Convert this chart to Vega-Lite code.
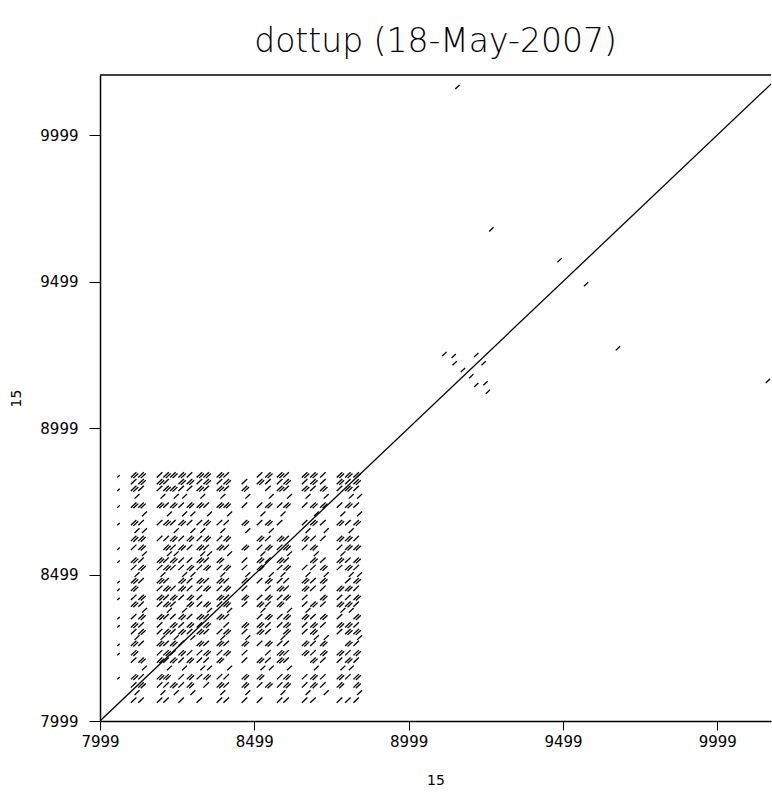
{
"$schema": "https://vega.github.io/schema/vega-lite/v6.json",
"width": 671,
"height": 646,
"autosize": {"type": "none"},
"padding": {"left": 100, "top": 75, "right": 1, "bottom": 73},
"background": "white",
"title": {"text": "dottup (18-May-2007)", "font": "DejaVu Sans", "fontSize": 33, "fontWeight": 200, "color": "black", "anchor": "middle", "frame": "group", "baseline": "alphabetic", "offset": -11},
"config": {"view": {"stroke": null}},
"resolve": {"axis": {"y": "independent"}},
"layer": [
{
"data": {"values": [
{"x":7999,"y":7999,"x2":10204,"y2":10204},
{"x":9150,"y":10156,"x2":9164,"y2":10170},
{"x":10156,"y":9153,"x2":10170,"y2":9167},
{"x":9260,"y":9670,"x2":9274,"y2":9684},
{"x":9670,"y":9264,"x2":9684,"y2":9278},
{"x":9481,"y":9565,"x2":9495,"y2":9579},
{"x":9567,"y":9483,"x2":9581,"y2":9497},
{"x":9108,"y":9245,"x2":9122,"y2":9259},
{"x":9249,"y":9116,"x2":9263,"y2":9130},
{"x":9138,"y":9238,"x2":9152,"y2":9252},
{"x":9241,"y":9145,"x2":9255,"y2":9159},
{"x":9141,"y":9213,"x2":9155,"y2":9227},
{"x":9211,"y":9139,"x2":9225,"y2":9153},
{"x":9168,"y":9190,"x2":9182,"y2":9204},
{"x":9195,"y":9169,"x2":9209,"y2":9183},
{"x":9211,"y":9241,"x2":9225,"y2":9255},
{"x":9235,"y":9213,"x2":9249,"y2":9227},

{"x":8055,"y":8830,"x2":8063,"y2":8838},
{"x":8099,"y":8830,"x2":8117,"y2":8848},
{"x":8123,"y":8830,"x2":8141,"y2":8848},
{"x":8183,"y":8830,"x2":8201,"y2":8848},
{"x":8204,"y":8830,"x2":8222,"y2":8848},
{"x":8226,"y":8830,"x2":8244,"y2":8848},
{"x":8253,"y":8830,"x2":8271,"y2":8848},
{"x":8280,"y":8830,"x2":8298,"y2":8848},
{"x":8312,"y":8830,"x2":8330,"y2":8848},
{"x":8334,"y":8830,"x2":8352,"y2":8848},
{"x":8377,"y":8830,"x2":8395,"y2":8848},
{"x":8399,"y":8830,"x2":8417,"y2":8848},
{"x":8507,"y":8830,"x2":8525,"y2":8848},
{"x":8534,"y":8830,"x2":8552,"y2":8848},
{"x":8572,"y":8830,"x2":8590,"y2":8848},
{"x":8593,"y":8830,"x2":8611,"y2":8848},
{"x":8653,"y":8830,"x2":8671,"y2":8848},
{"x":8680,"y":8830,"x2":8698,"y2":8848},
{"x":8712,"y":8830,"x2":8730,"y2":8848},
{"x":8766,"y":8830,"x2":8784,"y2":8848},
{"x":8793,"y":8830,"x2":8811,"y2":8848},
{"x":8820,"y":8830,"x2":8838,"y2":8848},
{"x":8107,"y":8828,"x2":8123,"y2":8844},
{"x":8131,"y":8828,"x2":8147,"y2":8844},
{"x":8212,"y":8828,"x2":8228,"y2":8844},
{"x":8234,"y":8828,"x2":8250,"y2":8844},
{"x":8261,"y":8828,"x2":8277,"y2":8844},
{"x":8320,"y":8828,"x2":8336,"y2":8844},
{"x":8342,"y":8828,"x2":8358,"y2":8844},
{"x":8385,"y":8828,"x2":8401,"y2":8844},
{"x":8542,"y":8828,"x2":8558,"y2":8844},
{"x":8580,"y":8828,"x2":8596,"y2":8844},
{"x":8661,"y":8828,"x2":8677,"y2":8844},
{"x":8688,"y":8828,"x2":8704,"y2":8844},
{"x":8774,"y":8828,"x2":8790,"y2":8844},
{"x":8801,"y":8828,"x2":8817,"y2":8844},
{"x":8828,"y":8828,"x2":8844,"y2":8844},

{"x":8099,"y":8807,"x2":8117,"y2":8825},
{"x":8123,"y":8807,"x2":8141,"y2":8825},
{"x":8183,"y":8807,"x2":8201,"y2":8825},
{"x":8204,"y":8807,"x2":8222,"y2":8825},
{"x":8253,"y":8807,"x2":8271,"y2":8825},
{"x":8280,"y":8807,"x2":8298,"y2":8825},
{"x":8312,"y":8807,"x2":8330,"y2":8825},
{"x":8334,"y":8807,"x2":8352,"y2":8825},
{"x":8377,"y":8807,"x2":8395,"y2":8825},
{"x":8399,"y":8807,"x2":8417,"y2":8825},
{"x":8458,"y":8807,"x2":8476,"y2":8825},
{"x":8507,"y":8807,"x2":8525,"y2":8825},
{"x":8534,"y":8807,"x2":8552,"y2":8825},
{"x":8572,"y":8807,"x2":8590,"y2":8825},
{"x":8593,"y":8807,"x2":8611,"y2":8825},
{"x":8653,"y":8807,"x2":8671,"y2":8825},
{"x":8680,"y":8807,"x2":8698,"y2":8825},
{"x":8712,"y":8807,"x2":8730,"y2":8825},
{"x":8766,"y":8807,"x2":8784,"y2":8825},
{"x":8793,"y":8807,"x2":8811,"y2":8825},
{"x":8820,"y":8807,"x2":8838,"y2":8825},
{"x":8131,"y":8805,"x2":8147,"y2":8821},
{"x":8191,"y":8805,"x2":8207,"y2":8821},
{"x":8261,"y":8805,"x2":8277,"y2":8821},
{"x":8288,"y":8805,"x2":8304,"y2":8821},
{"x":8342,"y":8805,"x2":8358,"y2":8821},
{"x":8407,"y":8805,"x2":8423,"y2":8821},
{"x":8515,"y":8805,"x2":8531,"y2":8821},
{"x":8601,"y":8805,"x2":8617,"y2":8821},
{"x":8688,"y":8805,"x2":8704,"y2":8821},
{"x":8774,"y":8805,"x2":8790,"y2":8821},
{"x":8828,"y":8805,"x2":8844,"y2":8821},

{"x":8055,"y":8784,"x2":8063,"y2":8792},
{"x":8099,"y":8784,"x2":8117,"y2":8802},
{"x":8123,"y":8784,"x2":8141,"y2":8802},
{"x":8183,"y":8784,"x2":8201,"y2":8802},
{"x":8204,"y":8784,"x2":8222,"y2":8802},
{"x":8226,"y":8784,"x2":8244,"y2":8802},
{"x":8253,"y":8784,"x2":8271,"y2":8802},
{"x":8280,"y":8784,"x2":8298,"y2":8802},
{"x":8312,"y":8784,"x2":8330,"y2":8802},
{"x":8334,"y":8784,"x2":8352,"y2":8802},
{"x":8377,"y":8784,"x2":8395,"y2":8802},
{"x":8399,"y":8784,"x2":8417,"y2":8802},
{"x":8458,"y":8784,"x2":8476,"y2":8802},
{"x":8534,"y":8784,"x2":8552,"y2":8802},
{"x":8572,"y":8784,"x2":8590,"y2":8802},
{"x":8593,"y":8784,"x2":8611,"y2":8802},
{"x":8653,"y":8784,"x2":8671,"y2":8802},
{"x":8680,"y":8784,"x2":8698,"y2":8802},
{"x":8712,"y":8784,"x2":8730,"y2":8802},
{"x":8766,"y":8784,"x2":8784,"y2":8802},
{"x":8793,"y":8784,"x2":8811,"y2":8802},
{"x":8820,"y":8784,"x2":8838,"y2":8802},
{"x":8107,"y":8782,"x2":8123,"y2":8798},
{"x":8212,"y":8782,"x2":8228,"y2":8798},
{"x":8234,"y":8782,"x2":8250,"y2":8798},
{"x":8320,"y":8782,"x2":8336,"y2":8798},
{"x":8385,"y":8782,"x2":8401,"y2":8798},
{"x":8466,"y":8782,"x2":8482,"y2":8798},
{"x":8580,"y":8782,"x2":8596,"y2":8798},
{"x":8661,"y":8782,"x2":8677,"y2":8798},
{"x":8720,"y":8782,"x2":8736,"y2":8798},
{"x":8801,"y":8782,"x2":8817,"y2":8798},

{"x":8111,"y":8758,"x2":8127,"y2":8774},
{"x":8195,"y":8758,"x2":8211,"y2":8774},
{"x":8238,"y":8758,"x2":8254,"y2":8774},
{"x":8265,"y":8758,"x2":8281,"y2":8774},
{"x":8324,"y":8758,"x2":8340,"y2":8774},
{"x":8389,"y":8758,"x2":8405,"y2":8774},
{"x":8470,"y":8758,"x2":8486,"y2":8774},
{"x":8546,"y":8758,"x2":8562,"y2":8774},
{"x":8605,"y":8758,"x2":8621,"y2":8774},
{"x":8665,"y":8758,"x2":8681,"y2":8774},
{"x":8724,"y":8758,"x2":8740,"y2":8774},
{"x":8805,"y":8758,"x2":8821,"y2":8774},
{"x":8832,"y":8758,"x2":8848,"y2":8774},

{"x":8055,"y":8727,"x2":8063,"y2":8735},
{"x":8099,"y":8727,"x2":8117,"y2":8745},
{"x":8123,"y":8727,"x2":8141,"y2":8745},
{"x":8183,"y":8727,"x2":8201,"y2":8745},
{"x":8204,"y":8727,"x2":8222,"y2":8745},
{"x":8226,"y":8727,"x2":8244,"y2":8745},
{"x":8253,"y":8727,"x2":8271,"y2":8745},
{"x":8280,"y":8727,"x2":8298,"y2":8745},
{"x":8312,"y":8727,"x2":8330,"y2":8745},
{"x":8334,"y":8727,"x2":8352,"y2":8745},
{"x":8377,"y":8727,"x2":8395,"y2":8745},
{"x":8399,"y":8727,"x2":8417,"y2":8745},
{"x":8458,"y":8727,"x2":8476,"y2":8745},
{"x":8507,"y":8727,"x2":8525,"y2":8745},
{"x":8534,"y":8727,"x2":8552,"y2":8745},
{"x":8572,"y":8727,"x2":8590,"y2":8745},
{"x":8593,"y":8727,"x2":8611,"y2":8745},
{"x":8653,"y":8727,"x2":8671,"y2":8745},
{"x":8680,"y":8727,"x2":8698,"y2":8745},
{"x":8712,"y":8727,"x2":8730,"y2":8745},
{"x":8766,"y":8727,"x2":8784,"y2":8745},
{"x":8793,"y":8727,"x2":8811,"y2":8745},
{"x":8820,"y":8727,"x2":8838,"y2":8745},
{"x":8107,"y":8725,"x2":8123,"y2":8741},
{"x":8131,"y":8725,"x2":8147,"y2":8741},
{"x":8191,"y":8725,"x2":8207,"y2":8741},
{"x":8234,"y":8725,"x2":8250,"y2":8741},
{"x":8288,"y":8725,"x2":8304,"y2":8741},
{"x":8320,"y":8725,"x2":8336,"y2":8741},
{"x":8385,"y":8725,"x2":8401,"y2":8741},
{"x":8407,"y":8725,"x2":8423,"y2":8741},
{"x":8542,"y":8725,"x2":8558,"y2":8741},
{"x":8601,"y":8725,"x2":8617,"y2":8741},
{"x":8688,"y":8725,"x2":8704,"y2":8741},
{"x":8720,"y":8725,"x2":8736,"y2":8741},
{"x":8801,"y":8725,"x2":8817,"y2":8741},

{"x":8135,"y":8698,"x2":8151,"y2":8714},
{"x":8216,"y":8698,"x2":8232,"y2":8714},
{"x":8265,"y":8698,"x2":8281,"y2":8714},
{"x":8292,"y":8698,"x2":8308,"y2":8714},
{"x":8346,"y":8698,"x2":8362,"y2":8714},
{"x":8411,"y":8698,"x2":8427,"y2":8714},
{"x":8519,"y":8698,"x2":8535,"y2":8714},
{"x":8584,"y":8698,"x2":8600,"y2":8714},
{"x":8692,"y":8698,"x2":8708,"y2":8714},
{"x":8778,"y":8698,"x2":8794,"y2":8714},
{"x":8832,"y":8698,"x2":8848,"y2":8714},

{"x":8055,"y":8667,"x2":8063,"y2":8675},
{"x":8099,"y":8667,"x2":8117,"y2":8685},
{"x":8123,"y":8667,"x2":8141,"y2":8685},
{"x":8183,"y":8667,"x2":8201,"y2":8685},
{"x":8204,"y":8667,"x2":8222,"y2":8685},
{"x":8226,"y":8667,"x2":8244,"y2":8685},
{"x":8253,"y":8667,"x2":8271,"y2":8685},
{"x":8280,"y":8667,"x2":8298,"y2":8685},
{"x":8312,"y":8667,"x2":8330,"y2":8685},
{"x":8334,"y":8667,"x2":8352,"y2":8685},
{"x":8377,"y":8667,"x2":8395,"y2":8685},
{"x":8399,"y":8667,"x2":8417,"y2":8685},
{"x":8458,"y":8667,"x2":8476,"y2":8685},
{"x":8507,"y":8667,"x2":8525,"y2":8685},
{"x":8534,"y":8667,"x2":8552,"y2":8685},
{"x":8572,"y":8667,"x2":8590,"y2":8685},
{"x":8653,"y":8667,"x2":8671,"y2":8685},
{"x":8680,"y":8667,"x2":8698,"y2":8685},
{"x":8712,"y":8667,"x2":8730,"y2":8685},
{"x":8766,"y":8667,"x2":8784,"y2":8685},
{"x":8793,"y":8667,"x2":8811,"y2":8685},
{"x":8820,"y":8667,"x2":8838,"y2":8685},
{"x":8107,"y":8665,"x2":8123,"y2":8681},
{"x":8212,"y":8665,"x2":8228,"y2":8681},
{"x":8261,"y":8665,"x2":8277,"y2":8681},
{"x":8342,"y":8665,"x2":8358,"y2":8681},
{"x":8466,"y":8665,"x2":8482,"y2":8681},
{"x":8542,"y":8665,"x2":8558,"y2":8681},
{"x":8688,"y":8665,"x2":8704,"y2":8681},
{"x":8774,"y":8665,"x2":8790,"y2":8681},
{"x":8828,"y":8665,"x2":8844,"y2":8681},

{"x":8111,"y":8641,"x2":8127,"y2":8657},
{"x":8135,"y":8641,"x2":8151,"y2":8657},
{"x":8238,"y":8641,"x2":8254,"y2":8657},
{"x":8292,"y":8641,"x2":8308,"y2":8657},
{"x":8324,"y":8641,"x2":8340,"y2":8657},
{"x":8389,"y":8641,"x2":8405,"y2":8657},
{"x":8470,"y":8641,"x2":8486,"y2":8657},
{"x":8546,"y":8641,"x2":8562,"y2":8657},
{"x":8665,"y":8641,"x2":8681,"y2":8657},
{"x":8724,"y":8641,"x2":8740,"y2":8657},
{"x":8805,"y":8641,"x2":8821,"y2":8657},

{"x":8099,"y":8613,"x2":8117,"y2":8631},
{"x":8123,"y":8613,"x2":8141,"y2":8631},
{"x":8183,"y":8613,"x2":8201,"y2":8631},
{"x":8204,"y":8613,"x2":8222,"y2":8631},
{"x":8226,"y":8613,"x2":8244,"y2":8631},
{"x":8253,"y":8613,"x2":8271,"y2":8631},
{"x":8280,"y":8613,"x2":8298,"y2":8631},
{"x":8312,"y":8613,"x2":8330,"y2":8631},
{"x":8334,"y":8613,"x2":8352,"y2":8631},
{"x":8377,"y":8613,"x2":8395,"y2":8631},
{"x":8399,"y":8613,"x2":8417,"y2":8631},
{"x":8507,"y":8613,"x2":8525,"y2":8631},
{"x":8534,"y":8613,"x2":8552,"y2":8631},
{"x":8572,"y":8613,"x2":8590,"y2":8631},
{"x":8593,"y":8613,"x2":8611,"y2":8631},
{"x":8653,"y":8613,"x2":8671,"y2":8631},
{"x":8680,"y":8613,"x2":8698,"y2":8631},
{"x":8712,"y":8613,"x2":8730,"y2":8631},
{"x":8766,"y":8613,"x2":8784,"y2":8631},
{"x":8793,"y":8613,"x2":8811,"y2":8631},
{"x":8820,"y":8613,"x2":8838,"y2":8631},
{"x":8107,"y":8611,"x2":8123,"y2":8627},
{"x":8131,"y":8611,"x2":8147,"y2":8627},
{"x":8234,"y":8611,"x2":8250,"y2":8627},
{"x":8288,"y":8611,"x2":8304,"y2":8627},
{"x":8342,"y":8611,"x2":8358,"y2":8627},
{"x":8407,"y":8611,"x2":8423,"y2":8627},
{"x":8515,"y":8611,"x2":8531,"y2":8627},
{"x":8580,"y":8611,"x2":8596,"y2":8627},
{"x":8661,"y":8611,"x2":8677,"y2":8627},
{"x":8774,"y":8611,"x2":8790,"y2":8627},
{"x":8801,"y":8611,"x2":8817,"y2":8627},

{"x":8055,"y":8583,"x2":8063,"y2":8591},
{"x":8099,"y":8583,"x2":8117,"y2":8601},
{"x":8123,"y":8583,"x2":8141,"y2":8601},
{"x":8204,"y":8583,"x2":8222,"y2":8601},
{"x":8226,"y":8583,"x2":8244,"y2":8601},
{"x":8253,"y":8583,"x2":8271,"y2":8601},
{"x":8280,"y":8583,"x2":8298,"y2":8601},
{"x":8312,"y":8583,"x2":8330,"y2":8601},
{"x":8334,"y":8583,"x2":8352,"y2":8601},
{"x":8377,"y":8583,"x2":8395,"y2":8601},
{"x":8399,"y":8583,"x2":8417,"y2":8601},
{"x":8458,"y":8583,"x2":8476,"y2":8601},
{"x":8507,"y":8583,"x2":8525,"y2":8601},
{"x":8534,"y":8583,"x2":8552,"y2":8601},
{"x":8572,"y":8583,"x2":8590,"y2":8601},
{"x":8593,"y":8583,"x2":8611,"y2":8601},
{"x":8653,"y":8583,"x2":8671,"y2":8601},
{"x":8680,"y":8583,"x2":8698,"y2":8601},
{"x":8766,"y":8583,"x2":8784,"y2":8601},
{"x":8793,"y":8583,"x2":8811,"y2":8601},
{"x":8820,"y":8583,"x2":8838,"y2":8601},
{"x":8131,"y":8581,"x2":8147,"y2":8597},
{"x":8212,"y":8581,"x2":8228,"y2":8597},
{"x":8261,"y":8581,"x2":8277,"y2":8597},
{"x":8320,"y":8581,"x2":8336,"y2":8597},
{"x":8385,"y":8581,"x2":8401,"y2":8597},
{"x":8466,"y":8581,"x2":8482,"y2":8597},
{"x":8542,"y":8581,"x2":8558,"y2":8597},
{"x":8601,"y":8581,"x2":8617,"y2":8597},
{"x":8688,"y":8581,"x2":8704,"y2":8597},
{"x":8801,"y":8581,"x2":8817,"y2":8597},
{"x":8828,"y":8581,"x2":8844,"y2":8597},

{"x":8135,"y":8562,"x2":8151,"y2":8578},
{"x":8216,"y":8562,"x2":8232,"y2":8578},
{"x":8238,"y":8562,"x2":8254,"y2":8578},
{"x":8324,"y":8562,"x2":8340,"y2":8578},
{"x":8346,"y":8562,"x2":8362,"y2":8578},
{"x":8411,"y":8562,"x2":8427,"y2":8578},
{"x":8519,"y":8562,"x2":8535,"y2":8578},
{"x":8605,"y":8562,"x2":8621,"y2":8578},
{"x":8692,"y":8562,"x2":8708,"y2":8578},
{"x":8778,"y":8562,"x2":8794,"y2":8578},

{"x":8055,"y":8539,"x2":8063,"y2":8547},
{"x":8099,"y":8539,"x2":8117,"y2":8557},
{"x":8123,"y":8539,"x2":8141,"y2":8557},
{"x":8183,"y":8539,"x2":8201,"y2":8557},
{"x":8204,"y":8539,"x2":8222,"y2":8557},
{"x":8226,"y":8539,"x2":8244,"y2":8557},
{"x":8253,"y":8539,"x2":8271,"y2":8557},
{"x":8280,"y":8539,"x2":8298,"y2":8557},
{"x":8312,"y":8539,"x2":8330,"y2":8557},
{"x":8334,"y":8539,"x2":8352,"y2":8557},
{"x":8377,"y":8539,"x2":8395,"y2":8557},
{"x":8458,"y":8539,"x2":8476,"y2":8557},
{"x":8507,"y":8539,"x2":8525,"y2":8557},
{"x":8534,"y":8539,"x2":8552,"y2":8557},
{"x":8572,"y":8539,"x2":8590,"y2":8557},
{"x":8593,"y":8539,"x2":8611,"y2":8557},
{"x":8680,"y":8539,"x2":8698,"y2":8557},
{"x":8712,"y":8539,"x2":8730,"y2":8557},
{"x":8766,"y":8539,"x2":8784,"y2":8557},
{"x":8793,"y":8539,"x2":8811,"y2":8557},
{"x":8820,"y":8539,"x2":8838,"y2":8557},
{"x":8107,"y":8537,"x2":8123,"y2":8553},
{"x":8191,"y":8537,"x2":8207,"y2":8553},
{"x":8234,"y":8537,"x2":8250,"y2":8553},
{"x":8320,"y":8537,"x2":8336,"y2":8553},
{"x":8385,"y":8537,"x2":8401,"y2":8553},
{"x":8515,"y":8537,"x2":8531,"y2":8553},
{"x":8580,"y":8537,"x2":8596,"y2":8553},
{"x":8688,"y":8537,"x2":8704,"y2":8553},
{"x":8774,"y":8537,"x2":8790,"y2":8553},
{"x":8828,"y":8537,"x2":8844,"y2":8553},

{"x":8099,"y":8514,"x2":8117,"y2":8532},
{"x":8123,"y":8514,"x2":8141,"y2":8532},
{"x":8183,"y":8514,"x2":8201,"y2":8532},
{"x":8204,"y":8514,"x2":8222,"y2":8532},
{"x":8226,"y":8514,"x2":8244,"y2":8532},
{"x":8253,"y":8514,"x2":8271,"y2":8532},
{"x":8280,"y":8514,"x2":8298,"y2":8532},
{"x":8312,"y":8514,"x2":8330,"y2":8532},
{"x":8334,"y":8514,"x2":8352,"y2":8532},
{"x":8377,"y":8514,"x2":8395,"y2":8532},
{"x":8399,"y":8514,"x2":8417,"y2":8532},
{"x":8458,"y":8514,"x2":8476,"y2":8532},
{"x":8507,"y":8514,"x2":8525,"y2":8532},
{"x":8572,"y":8514,"x2":8590,"y2":8532},
{"x":8593,"y":8514,"x2":8611,"y2":8532},
{"x":8653,"y":8514,"x2":8671,"y2":8532},
{"x":8680,"y":8514,"x2":8698,"y2":8532},
{"x":8712,"y":8514,"x2":8730,"y2":8532},
{"x":8766,"y":8514,"x2":8784,"y2":8532},
{"x":8793,"y":8514,"x2":8811,"y2":8532},
{"x":8820,"y":8514,"x2":8838,"y2":8532},
{"x":8131,"y":8512,"x2":8147,"y2":8528},
{"x":8212,"y":8512,"x2":8228,"y2":8528},
{"x":8288,"y":8512,"x2":8304,"y2":8528},
{"x":8342,"y":8512,"x2":8358,"y2":8528},
{"x":8407,"y":8512,"x2":8423,"y2":8528},
{"x":8515,"y":8512,"x2":8531,"y2":8528},
{"x":8601,"y":8512,"x2":8617,"y2":8528},
{"x":8720,"y":8512,"x2":8736,"y2":8528},
{"x":8801,"y":8512,"x2":8817,"y2":8528},

{"x":8111,"y":8491,"x2":8127,"y2":8507},
{"x":8195,"y":8491,"x2":8211,"y2":8507},
{"x":8265,"y":8491,"x2":8281,"y2":8507},
{"x":8292,"y":8491,"x2":8308,"y2":8507},
{"x":8389,"y":8491,"x2":8405,"y2":8507},
{"x":8470,"y":8491,"x2":8486,"y2":8507},
{"x":8546,"y":8491,"x2":8562,"y2":8507},
{"x":8584,"y":8491,"x2":8600,"y2":8507},
{"x":8665,"y":8491,"x2":8681,"y2":8507},
{"x":8724,"y":8491,"x2":8740,"y2":8507},
{"x":8805,"y":8491,"x2":8821,"y2":8507},
{"x":8832,"y":8491,"x2":8848,"y2":8507},

{"x":8055,"y":8469,"x2":8063,"y2":8477},
{"x":8099,"y":8469,"x2":8117,"y2":8487},
{"x":8123,"y":8469,"x2":8141,"y2":8487},
{"x":8183,"y":8469,"x2":8201,"y2":8487},
{"x":8204,"y":8469,"x2":8222,"y2":8487},
{"x":8253,"y":8469,"x2":8271,"y2":8487},
{"x":8280,"y":8469,"x2":8298,"y2":8487},
{"x":8312,"y":8469,"x2":8330,"y2":8487},
{"x":8334,"y":8469,"x2":8352,"y2":8487},
{"x":8377,"y":8469,"x2":8395,"y2":8487},
{"x":8399,"y":8469,"x2":8417,"y2":8487},
{"x":8458,"y":8469,"x2":8476,"y2":8487},
{"x":8507,"y":8469,"x2":8525,"y2":8487},
{"x":8534,"y":8469,"x2":8552,"y2":8487},
{"x":8572,"y":8469,"x2":8590,"y2":8487},
{"x":8593,"y":8469,"x2":8611,"y2":8487},
{"x":8653,"y":8469,"x2":8671,"y2":8487},
{"x":8680,"y":8469,"x2":8698,"y2":8487},
{"x":8712,"y":8469,"x2":8730,"y2":8487},
{"x":8793,"y":8469,"x2":8811,"y2":8487},
{"x":8820,"y":8469,"x2":8838,"y2":8487},
{"x":8107,"y":8467,"x2":8123,"y2":8483},
{"x":8191,"y":8467,"x2":8207,"y2":8483},
{"x":8261,"y":8467,"x2":8277,"y2":8483},
{"x":8320,"y":8467,"x2":8336,"y2":8483},
{"x":8385,"y":8467,"x2":8401,"y2":8483},
{"x":8466,"y":8467,"x2":8482,"y2":8483},
{"x":8542,"y":8467,"x2":8558,"y2":8483},
{"x":8661,"y":8467,"x2":8677,"y2":8483},
{"x":8720,"y":8467,"x2":8736,"y2":8483},
{"x":8828,"y":8467,"x2":8844,"y2":8483},

{"x":8055,"y":8443,"x2":8063,"y2":8451},
{"x":8099,"y":8443,"x2":8117,"y2":8461},
{"x":8183,"y":8443,"x2":8201,"y2":8461},
{"x":8204,"y":8443,"x2":8222,"y2":8461},
{"x":8226,"y":8443,"x2":8244,"y2":8461},
{"x":8253,"y":8443,"x2":8271,"y2":8461},
{"x":8280,"y":8443,"x2":8298,"y2":8461},
{"x":8312,"y":8443,"x2":8330,"y2":8461},
{"x":8334,"y":8443,"x2":8352,"y2":8461},
{"x":8377,"y":8443,"x2":8395,"y2":8461},
{"x":8399,"y":8443,"x2":8417,"y2":8461},
{"x":8458,"y":8443,"x2":8476,"y2":8461},
{"x":8534,"y":8443,"x2":8552,"y2":8461},
{"x":8572,"y":8443,"x2":8590,"y2":8461},
{"x":8593,"y":8443,"x2":8611,"y2":8461},
{"x":8653,"y":8443,"x2":8671,"y2":8461},
{"x":8680,"y":8443,"x2":8698,"y2":8461},
{"x":8712,"y":8443,"x2":8730,"y2":8461},
{"x":8766,"y":8443,"x2":8784,"y2":8461},
{"x":8793,"y":8443,"x2":8811,"y2":8461},
{"x":8820,"y":8443,"x2":8838,"y2":8461},
{"x":8107,"y":8441,"x2":8123,"y2":8457},
{"x":8212,"y":8441,"x2":8228,"y2":8457},
{"x":8261,"y":8441,"x2":8277,"y2":8457},
{"x":8342,"y":8441,"x2":8358,"y2":8457},
{"x":8407,"y":8441,"x2":8423,"y2":8457},
{"x":8580,"y":8441,"x2":8596,"y2":8457},
{"x":8661,"y":8441,"x2":8677,"y2":8457},
{"x":8774,"y":8441,"x2":8790,"y2":8457},
{"x":8801,"y":8441,"x2":8817,"y2":8457},

{"x":8055,"y":8412,"x2":8063,"y2":8420},
{"x":8099,"y":8412,"x2":8117,"y2":8430},
{"x":8123,"y":8412,"x2":8141,"y2":8430},
{"x":8183,"y":8412,"x2":8201,"y2":8430},
{"x":8204,"y":8412,"x2":8222,"y2":8430},
{"x":8226,"y":8412,"x2":8244,"y2":8430},
{"x":8253,"y":8412,"x2":8271,"y2":8430},
{"x":8280,"y":8412,"x2":8298,"y2":8430},
{"x":8312,"y":8412,"x2":8330,"y2":8430},
{"x":8377,"y":8412,"x2":8395,"y2":8430},
{"x":8399,"y":8412,"x2":8417,"y2":8430},
{"x":8458,"y":8412,"x2":8476,"y2":8430},
{"x":8507,"y":8412,"x2":8525,"y2":8430},
{"x":8534,"y":8412,"x2":8552,"y2":8430},
{"x":8572,"y":8412,"x2":8590,"y2":8430},
{"x":8593,"y":8412,"x2":8611,"y2":8430},
{"x":8653,"y":8412,"x2":8671,"y2":8430},
{"x":8712,"y":8412,"x2":8730,"y2":8430},
{"x":8766,"y":8412,"x2":8784,"y2":8430},
{"x":8793,"y":8412,"x2":8811,"y2":8430},
{"x":8820,"y":8412,"x2":8838,"y2":8430},
{"x":8131,"y":8410,"x2":8147,"y2":8426},
{"x":8191,"y":8410,"x2":8207,"y2":8426},
{"x":8234,"y":8410,"x2":8250,"y2":8426},
{"x":8288,"y":8410,"x2":8304,"y2":8426},
{"x":8385,"y":8410,"x2":8401,"y2":8426},
{"x":8466,"y":8410,"x2":8482,"y2":8426},
{"x":8542,"y":8410,"x2":8558,"y2":8426},
{"x":8601,"y":8410,"x2":8617,"y2":8426},
{"x":8720,"y":8410,"x2":8736,"y2":8426},
{"x":8828,"y":8410,"x2":8844,"y2":8426},

{"x":8099,"y":8389,"x2":8117,"y2":8407},
{"x":8123,"y":8389,"x2":8141,"y2":8407},
{"x":8183,"y":8389,"x2":8201,"y2":8407},
{"x":8204,"y":8389,"x2":8222,"y2":8407},
{"x":8226,"y":8389,"x2":8244,"y2":8407},
{"x":8280,"y":8389,"x2":8298,"y2":8407},
{"x":8312,"y":8389,"x2":8330,"y2":8407},
{"x":8334,"y":8389,"x2":8352,"y2":8407},
{"x":8377,"y":8389,"x2":8395,"y2":8407},
{"x":8399,"y":8389,"x2":8417,"y2":8407},
{"x":8458,"y":8389,"x2":8476,"y2":8407},
{"x":8507,"y":8389,"x2":8525,"y2":8407},
{"x":8534,"y":8389,"x2":8552,"y2":8407},
{"x":8572,"y":8389,"x2":8590,"y2":8407},
{"x":8653,"y":8389,"x2":8671,"y2":8407},
{"x":8680,"y":8389,"x2":8698,"y2":8407},
{"x":8712,"y":8389,"x2":8730,"y2":8407},
{"x":8766,"y":8389,"x2":8784,"y2":8407},
{"x":8793,"y":8389,"x2":8811,"y2":8407},
{"x":8820,"y":8389,"x2":8838,"y2":8407},
{"x":8107,"y":8387,"x2":8123,"y2":8403},
{"x":8212,"y":8387,"x2":8228,"y2":8403},
{"x":8288,"y":8387,"x2":8304,"y2":8403},
{"x":8342,"y":8387,"x2":8358,"y2":8403},
{"x":8407,"y":8387,"x2":8423,"y2":8403},
{"x":8515,"y":8387,"x2":8531,"y2":8403},
{"x":8580,"y":8387,"x2":8596,"y2":8403},
{"x":8688,"y":8387,"x2":8704,"y2":8403},
{"x":8774,"y":8387,"x2":8790,"y2":8403},
{"x":8801,"y":8387,"x2":8817,"y2":8403},

{"x":8135,"y":8369,"x2":8151,"y2":8385},
{"x":8216,"y":8369,"x2":8232,"y2":8385},
{"x":8265,"y":8369,"x2":8281,"y2":8385},
{"x":8346,"y":8369,"x2":8362,"y2":8385},
{"x":8411,"y":8369,"x2":8427,"y2":8385},
{"x":8519,"y":8369,"x2":8535,"y2":8385},
{"x":8605,"y":8369,"x2":8621,"y2":8385},
{"x":8665,"y":8369,"x2":8681,"y2":8385},
{"x":8778,"y":8369,"x2":8794,"y2":8385},
{"x":8805,"y":8369,"x2":8821,"y2":8385},

{"x":8055,"y":8346,"x2":8063,"y2":8354},
{"x":8099,"y":8346,"x2":8117,"y2":8364},
{"x":8123,"y":8346,"x2":8141,"y2":8364},
{"x":8183,"y":8346,"x2":8201,"y2":8364},
{"x":8204,"y":8346,"x2":8222,"y2":8364},
{"x":8226,"y":8346,"x2":8244,"y2":8364},
{"x":8253,"y":8346,"x2":8271,"y2":8364},
{"x":8280,"y":8346,"x2":8298,"y2":8364},
{"x":8312,"y":8346,"x2":8330,"y2":8364},
{"x":8334,"y":8346,"x2":8352,"y2":8364},
{"x":8377,"y":8346,"x2":8395,"y2":8364},
{"x":8399,"y":8346,"x2":8417,"y2":8364},
{"x":8507,"y":8346,"x2":8525,"y2":8364},
{"x":8534,"y":8346,"x2":8552,"y2":8364},
{"x":8572,"y":8346,"x2":8590,"y2":8364},
{"x":8593,"y":8346,"x2":8611,"y2":8364},
{"x":8653,"y":8346,"x2":8671,"y2":8364},
{"x":8680,"y":8346,"x2":8698,"y2":8364},
{"x":8712,"y":8346,"x2":8730,"y2":8364},
{"x":8766,"y":8346,"x2":8784,"y2":8364},
{"x":8820,"y":8346,"x2":8838,"y2":8364},
{"x":8131,"y":8344,"x2":8147,"y2":8360},
{"x":8191,"y":8344,"x2":8207,"y2":8360},
{"x":8261,"y":8344,"x2":8277,"y2":8360},
{"x":8320,"y":8344,"x2":8336,"y2":8360},
{"x":8385,"y":8344,"x2":8401,"y2":8360},
{"x":8542,"y":8344,"x2":8558,"y2":8360},
{"x":8601,"y":8344,"x2":8617,"y2":8360},
{"x":8661,"y":8344,"x2":8677,"y2":8360},
{"x":8720,"y":8344,"x2":8736,"y2":8360},
{"x":8828,"y":8344,"x2":8844,"y2":8360},

{"x":8055,"y":8318,"x2":8063,"y2":8326},
{"x":8099,"y":8318,"x2":8117,"y2":8336},
{"x":8123,"y":8318,"x2":8141,"y2":8336},
{"x":8183,"y":8318,"x2":8201,"y2":8336},
{"x":8226,"y":8318,"x2":8244,"y2":8336},
{"x":8253,"y":8318,"x2":8271,"y2":8336},
{"x":8280,"y":8318,"x2":8298,"y2":8336},
{"x":8312,"y":8318,"x2":8330,"y2":8336},
{"x":8334,"y":8318,"x2":8352,"y2":8336},
{"x":8399,"y":8318,"x2":8417,"y2":8336},
{"x":8458,"y":8318,"x2":8476,"y2":8336},
{"x":8507,"y":8318,"x2":8525,"y2":8336},
{"x":8534,"y":8318,"x2":8552,"y2":8336},
{"x":8572,"y":8318,"x2":8590,"y2":8336},
{"x":8593,"y":8318,"x2":8611,"y2":8336},
{"x":8653,"y":8318,"x2":8671,"y2":8336},
{"x":8680,"y":8318,"x2":8698,"y2":8336},
{"x":8712,"y":8318,"x2":8730,"y2":8336},
{"x":8766,"y":8318,"x2":8784,"y2":8336},
{"x":8793,"y":8318,"x2":8811,"y2":8336},
{"x":8820,"y":8318,"x2":8838,"y2":8336},
{"x":8107,"y":8316,"x2":8123,"y2":8332},
{"x":8234,"y":8316,"x2":8250,"y2":8332},
{"x":8288,"y":8316,"x2":8304,"y2":8332},
{"x":8342,"y":8316,"x2":8358,"y2":8332},
{"x":8466,"y":8316,"x2":8482,"y2":8332},
{"x":8515,"y":8316,"x2":8531,"y2":8332},
{"x":8601,"y":8316,"x2":8617,"y2":8332},
{"x":8688,"y":8316,"x2":8704,"y2":8332},
{"x":8774,"y":8316,"x2":8790,"y2":8332},
{"x":8801,"y":8316,"x2":8817,"y2":8332},

{"x":8099,"y":8295,"x2":8117,"y2":8313},
{"x":8123,"y":8295,"x2":8141,"y2":8313},
{"x":8183,"y":8295,"x2":8201,"y2":8313},
{"x":8204,"y":8295,"x2":8222,"y2":8313},
{"x":8226,"y":8295,"x2":8244,"y2":8313},
{"x":8253,"y":8295,"x2":8271,"y2":8313},
{"x":8280,"y":8295,"x2":8298,"y2":8313},
{"x":8312,"y":8295,"x2":8330,"y2":8313},
{"x":8334,"y":8295,"x2":8352,"y2":8313},
{"x":8377,"y":8295,"x2":8395,"y2":8313},
{"x":8399,"y":8295,"x2":8417,"y2":8313},
{"x":8458,"y":8295,"x2":8476,"y2":8313},
{"x":8507,"y":8295,"x2":8525,"y2":8313},
{"x":8534,"y":8295,"x2":8552,"y2":8313},
{"x":8593,"y":8295,"x2":8611,"y2":8313},
{"x":8653,"y":8295,"x2":8671,"y2":8313},
{"x":8680,"y":8295,"x2":8698,"y2":8313},
{"x":8766,"y":8295,"x2":8784,"y2":8313},
{"x":8793,"y":8295,"x2":8811,"y2":8313},
{"x":8820,"y":8295,"x2":8838,"y2":8313},
{"x":8131,"y":8293,"x2":8147,"y2":8309},
{"x":8212,"y":8293,"x2":8228,"y2":8309},
{"x":8261,"y":8293,"x2":8277,"y2":8309},
{"x":8320,"y":8293,"x2":8336,"y2":8309},
{"x":8407,"y":8293,"x2":8423,"y2":8309},
{"x":8515,"y":8293,"x2":8531,"y2":8309},
{"x":8601,"y":8293,"x2":8617,"y2":8309},
{"x":8688,"y":8293,"x2":8704,"y2":8309},
{"x":8801,"y":8293,"x2":8817,"y2":8309},
{"x":8828,"y":8293,"x2":8844,"y2":8309},

{"x":8111,"y":8276,"x2":8127,"y2":8292},
{"x":8195,"y":8276,"x2":8211,"y2":8292},
{"x":8238,"y":8276,"x2":8254,"y2":8292},
{"x":8292,"y":8276,"x2":8308,"y2":8292},
{"x":8389,"y":8276,"x2":8405,"y2":8292},
{"x":8470,"y":8276,"x2":8486,"y2":8292},
{"x":8584,"y":8276,"x2":8600,"y2":8292},
{"x":8692,"y":8276,"x2":8708,"y2":8292},
{"x":8724,"y":8276,"x2":8740,"y2":8292},
{"x":8832,"y":8276,"x2":8848,"y2":8292},

{"x":8055,"y":8255,"x2":8063,"y2":8263},
{"x":8099,"y":8255,"x2":8117,"y2":8273},
{"x":8123,"y":8255,"x2":8141,"y2":8273},
{"x":8183,"y":8255,"x2":8201,"y2":8273},
{"x":8204,"y":8255,"x2":8222,"y2":8273},
{"x":8226,"y":8255,"x2":8244,"y2":8273},
{"x":8253,"y":8255,"x2":8271,"y2":8273},
{"x":8312,"y":8255,"x2":8330,"y2":8273},
{"x":8334,"y":8255,"x2":8352,"y2":8273},
{"x":8377,"y":8255,"x2":8395,"y2":8273},
{"x":8399,"y":8255,"x2":8417,"y2":8273},
{"x":8458,"y":8255,"x2":8476,"y2":8273},
{"x":8507,"y":8255,"x2":8525,"y2":8273},
{"x":8534,"y":8255,"x2":8552,"y2":8273},
{"x":8572,"y":8255,"x2":8590,"y2":8273},
{"x":8593,"y":8255,"x2":8611,"y2":8273},
{"x":8653,"y":8255,"x2":8671,"y2":8273},
{"x":8680,"y":8255,"x2":8698,"y2":8273},
{"x":8712,"y":8255,"x2":8730,"y2":8273},
{"x":8793,"y":8255,"x2":8811,"y2":8273},
{"x":8820,"y":8255,"x2":8838,"y2":8273},
{"x":8107,"y":8253,"x2":8123,"y2":8269},
{"x":8191,"y":8253,"x2":8207,"y2":8269},
{"x":8234,"y":8253,"x2":8250,"y2":8269},
{"x":8320,"y":8253,"x2":8336,"y2":8269},
{"x":8385,"y":8253,"x2":8401,"y2":8269},
{"x":8466,"y":8253,"x2":8482,"y2":8269},
{"x":8542,"y":8253,"x2":8558,"y2":8269},
{"x":8661,"y":8253,"x2":8677,"y2":8269},
{"x":8720,"y":8253,"x2":8736,"y2":8269},
{"x":8801,"y":8253,"x2":8817,"y2":8269},

{"x":8055,"y":8223,"x2":8063,"y2":8231},
{"x":8099,"y":8223,"x2":8117,"y2":8241},
{"x":8183,"y":8223,"x2":8201,"y2":8241},
{"x":8204,"y":8223,"x2":8222,"y2":8241},
{"x":8226,"y":8223,"x2":8244,"y2":8241},
{"x":8253,"y":8223,"x2":8271,"y2":8241},
{"x":8280,"y":8223,"x2":8298,"y2":8241},
{"x":8312,"y":8223,"x2":8330,"y2":8241},
{"x":8334,"y":8223,"x2":8352,"y2":8241},
{"x":8377,"y":8223,"x2":8395,"y2":8241},
{"x":8399,"y":8223,"x2":8417,"y2":8241},
{"x":8458,"y":8223,"x2":8476,"y2":8241},
{"x":8534,"y":8223,"x2":8552,"y2":8241},
{"x":8572,"y":8223,"x2":8590,"y2":8241},
{"x":8593,"y":8223,"x2":8611,"y2":8241},
{"x":8653,"y":8223,"x2":8671,"y2":8241},
{"x":8680,"y":8223,"x2":8698,"y2":8241},
{"x":8712,"y":8223,"x2":8730,"y2":8241},
{"x":8766,"y":8223,"x2":8784,"y2":8241},
{"x":8793,"y":8223,"x2":8811,"y2":8241},
{"x":8820,"y":8223,"x2":8838,"y2":8241},
{"x":8107,"y":8221,"x2":8123,"y2":8237},
{"x":8212,"y":8221,"x2":8228,"y2":8237},
{"x":8261,"y":8221,"x2":8277,"y2":8237},
{"x":8342,"y":8221,"x2":8358,"y2":8237},
{"x":8407,"y":8221,"x2":8423,"y2":8237},
{"x":8580,"y":8221,"x2":8596,"y2":8237},
{"x":8661,"y":8221,"x2":8677,"y2":8237},
{"x":8720,"y":8221,"x2":8736,"y2":8237},
{"x":8774,"y":8221,"x2":8790,"y2":8237},
{"x":8828,"y":8221,"x2":8844,"y2":8237},

{"x":8099,"y":8198,"x2":8117,"y2":8216},
{"x":8123,"y":8198,"x2":8141,"y2":8216},
{"x":8183,"y":8198,"x2":8201,"y2":8216},
{"x":8204,"y":8198,"x2":8222,"y2":8216},
{"x":8226,"y":8198,"x2":8244,"y2":8216},
{"x":8253,"y":8198,"x2":8271,"y2":8216},
{"x":8280,"y":8198,"x2":8298,"y2":8216},
{"x":8312,"y":8198,"x2":8330,"y2":8216},
{"x":8334,"y":8198,"x2":8352,"y2":8216},
{"x":8377,"y":8198,"x2":8395,"y2":8216},
{"x":8458,"y":8198,"x2":8476,"y2":8216},
{"x":8507,"y":8198,"x2":8525,"y2":8216},
{"x":8534,"y":8198,"x2":8552,"y2":8216},
{"x":8572,"y":8198,"x2":8590,"y2":8216},
{"x":8593,"y":8198,"x2":8611,"y2":8216},
{"x":8680,"y":8198,"x2":8698,"y2":8216},
{"x":8712,"y":8198,"x2":8730,"y2":8216},
{"x":8766,"y":8198,"x2":8784,"y2":8216},
{"x":8793,"y":8198,"x2":8811,"y2":8216},
{"x":8820,"y":8198,"x2":8838,"y2":8216},
{"x":8131,"y":8196,"x2":8147,"y2":8212},
{"x":8191,"y":8196,"x2":8207,"y2":8212},
{"x":8234,"y":8196,"x2":8250,"y2":8212},
{"x":8288,"y":8196,"x2":8304,"y2":8212},
{"x":8385,"y":8196,"x2":8401,"y2":8212},
{"x":8515,"y":8196,"x2":8531,"y2":8212},
{"x":8580,"y":8196,"x2":8596,"y2":8212},
{"x":8688,"y":8196,"x2":8704,"y2":8212},
{"x":8801,"y":8196,"x2":8817,"y2":8212},

{"x":8135,"y":8172,"x2":8151,"y2":8188},
{"x":8216,"y":8172,"x2":8232,"y2":8188},
{"x":8265,"y":8172,"x2":8281,"y2":8188},
{"x":8324,"y":8172,"x2":8340,"y2":8188},
{"x":8346,"y":8172,"x2":8362,"y2":8188},
{"x":8411,"y":8172,"x2":8427,"y2":8188},
{"x":8519,"y":8172,"x2":8535,"y2":8188},
{"x":8546,"y":8172,"x2":8562,"y2":8188},
{"x":8605,"y":8172,"x2":8621,"y2":8188},
{"x":8692,"y":8172,"x2":8708,"y2":8188},
{"x":8778,"y":8172,"x2":8794,"y2":8188},
{"x":8805,"y":8172,"x2":8821,"y2":8188},

{"x":8055,"y":8141,"x2":8063,"y2":8149},
{"x":8099,"y":8141,"x2":8117,"y2":8159},
{"x":8123,"y":8141,"x2":8141,"y2":8159},
{"x":8183,"y":8141,"x2":8201,"y2":8159},
{"x":8204,"y":8141,"x2":8222,"y2":8159},
{"x":8253,"y":8141,"x2":8271,"y2":8159},
{"x":8280,"y":8141,"x2":8298,"y2":8159},
{"x":8312,"y":8141,"x2":8330,"y2":8159},
{"x":8334,"y":8141,"x2":8352,"y2":8159},
{"x":8377,"y":8141,"x2":8395,"y2":8159},
{"x":8399,"y":8141,"x2":8417,"y2":8159},
{"x":8458,"y":8141,"x2":8476,"y2":8159},
{"x":8507,"y":8141,"x2":8525,"y2":8159},
{"x":8572,"y":8141,"x2":8590,"y2":8159},
{"x":8593,"y":8141,"x2":8611,"y2":8159},
{"x":8653,"y":8141,"x2":8671,"y2":8159},
{"x":8680,"y":8141,"x2":8698,"y2":8159},
{"x":8712,"y":8141,"x2":8730,"y2":8159},
{"x":8766,"y":8141,"x2":8784,"y2":8159},
{"x":8793,"y":8141,"x2":8811,"y2":8159},
{"x":8820,"y":8141,"x2":8838,"y2":8159},
{"x":8107,"y":8139,"x2":8123,"y2":8155},
{"x":8191,"y":8139,"x2":8207,"y2":8155},
{"x":8212,"y":8139,"x2":8228,"y2":8155},
{"x":8288,"y":8139,"x2":8304,"y2":8155},
{"x":8342,"y":8139,"x2":8358,"y2":8155},
{"x":8466,"y":8139,"x2":8482,"y2":8155},
{"x":8515,"y":8139,"x2":8531,"y2":8155},
{"x":8601,"y":8139,"x2":8617,"y2":8155},
{"x":8688,"y":8139,"x2":8704,"y2":8155},
{"x":8774,"y":8139,"x2":8790,"y2":8155},
{"x":8828,"y":8139,"x2":8844,"y2":8155},

{"x":8099,"y":8113,"x2":8117,"y2":8131},
{"x":8123,"y":8113,"x2":8141,"y2":8131},
{"x":8183,"y":8113,"x2":8201,"y2":8131},
{"x":8204,"y":8113,"x2":8222,"y2":8131},
{"x":8226,"y":8113,"x2":8244,"y2":8131},
{"x":8253,"y":8113,"x2":8271,"y2":8131},
{"x":8280,"y":8113,"x2":8298,"y2":8131},
{"x":8334,"y":8113,"x2":8352,"y2":8131},
{"x":8377,"y":8113,"x2":8395,"y2":8131},
{"x":8399,"y":8113,"x2":8417,"y2":8131},
{"x":8458,"y":8113,"x2":8476,"y2":8131},
{"x":8507,"y":8113,"x2":8525,"y2":8131},
{"x":8534,"y":8113,"x2":8552,"y2":8131},
{"x":8572,"y":8113,"x2":8590,"y2":8131},
{"x":8593,"y":8113,"x2":8611,"y2":8131},
{"x":8653,"y":8113,"x2":8671,"y2":8131},
{"x":8680,"y":8113,"x2":8698,"y2":8131},
{"x":8712,"y":8113,"x2":8730,"y2":8131},
{"x":8766,"y":8113,"x2":8784,"y2":8131},
{"x":8820,"y":8113,"x2":8838,"y2":8131},
{"x":8131,"y":8111,"x2":8147,"y2":8127},
{"x":8234,"y":8111,"x2":8250,"y2":8127},
{"x":8288,"y":8111,"x2":8304,"y2":8127},
{"x":8385,"y":8111,"x2":8401,"y2":8127},
{"x":8466,"y":8111,"x2":8482,"y2":8127},
{"x":8542,"y":8111,"x2":8558,"y2":8127},
{"x":8601,"y":8111,"x2":8617,"y2":8127},
{"x":8688,"y":8111,"x2":8704,"y2":8127},
{"x":8774,"y":8111,"x2":8790,"y2":8127},
{"x":8828,"y":8111,"x2":8844,"y2":8127},

{"x":8111,"y":8088,"x2":8127,"y2":8104},
{"x":8195,"y":8088,"x2":8211,"y2":8104},
{"x":8238,"y":8088,"x2":8254,"y2":8104},
{"x":8292,"y":8088,"x2":8308,"y2":8104},
{"x":8389,"y":8088,"x2":8405,"y2":8104},
{"x":8470,"y":8088,"x2":8486,"y2":8104},
{"x":8584,"y":8088,"x2":8600,"y2":8104},
{"x":8665,"y":8088,"x2":8681,"y2":8104},
{"x":8724,"y":8088,"x2":8740,"y2":8104},
{"x":8832,"y":8088,"x2":8848,"y2":8104},

{"x":8099,"y":8061,"x2":8117,"y2":8079},
{"x":8123,"y":8061,"x2":8141,"y2":8079},
{"x":8183,"y":8061,"x2":8201,"y2":8079},
{"x":8204,"y":8061,"x2":8222,"y2":8079},
{"x":8253,"y":8061,"x2":8271,"y2":8079},
{"x":8312,"y":8061,"x2":8330,"y2":8079},
{"x":8377,"y":8061,"x2":8395,"y2":8079},
{"x":8399,"y":8061,"x2":8417,"y2":8079},
{"x":8458,"y":8061,"x2":8476,"y2":8079},
{"x":8507,"y":8061,"x2":8525,"y2":8079},
{"x":8572,"y":8061,"x2":8590,"y2":8079},
{"x":8593,"y":8061,"x2":8611,"y2":8079},
{"x":8653,"y":8061,"x2":8671,"y2":8079},
{"x":8680,"y":8061,"x2":8698,"y2":8079},
{"x":8766,"y":8061,"x2":8784,"y2":8079},
{"x":8793,"y":8061,"x2":8811,"y2":8079},
{"x":8820,"y":8061,"x2":8838,"y2":8079}
]},
"mark": {"type": "rule", "color": "black", "strokeWidth": 1.3, "clip": true},
"encoding": {
"x": {"field": "x", "type": "quantitative", "scale": {"domain": [7999, 10173], "nice": false, "zero": false},
 "axis": {"values": [7999, 8499, 8999, 9499, 9999], "format": "d", "title": "15", "grid": false, "domainColor": "black", "domainWidth": 1.5, "tickColor": "black", "tickSize": 9, "tickWidth": 1, "labelFont": "DejaVu Sans", "labelFontSize": 15, "labelColor": "black", "labelPadding": 4, "labelFlush": false, "labelOverlap": false, "titleFont": "DejaVu Sans", "titleFontSize": 14, "titleFontWeight": "normal", "titleColor": "black", "titlePadding": 24}},
"y": {"field": "y", "type": "quantitative", "scale": {"domain": [7999, 10204], "nice": false, "zero": false},
 "axis": {"values": [7999, 8499, 8999, 9499, 9999], "format": "d", "title": "15", "grid": false, "domainColor": "black", "domainWidth": 1.5, "tickColor": "black", "tickSize": 11, "tickWidth": 1, "labelFont": "DejaVu Sans", "labelFontSize": 15, "labelColor": "black", "labelPadding": 11, "labelFlush": false, "labelOverlap": false, "titleFont": "DejaVu Sans", "titleFontSize": 14, "titleFontWeight": "normal", "titleColor": "black", "titlePadding": 16}},
"x2": {"field": "x2"},
"y2": {"field": "y2"}
}
},
{
"data": {"values": [{}]},
"mark": {"type": "rule", "color": "black", "strokeWidth": 1.5},
"encoding": {"y": {"datum": 10204, "axis": null}}
}
]
}
